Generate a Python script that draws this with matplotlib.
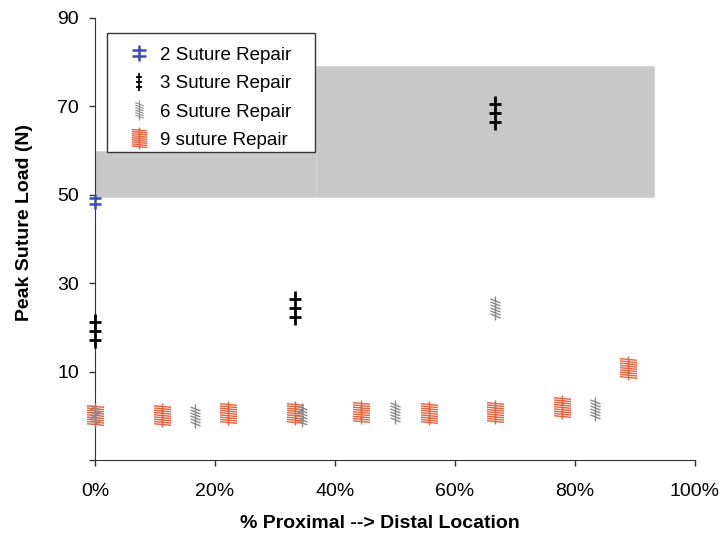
import numpy as np
import matplotlib
matplotlib.use('Agg')
import matplotlib.pyplot as plt
from matplotlib.path import Path
from matplotlib.markers import MarkerStyle
from matplotlib.patches import Rectangle
from matplotlib.lines import Line2D

plt.rcParams['font.family'] = ['Liberation Sans', 'DejaVu Sans']

# data (location in %, peak load in N)
x2 = [0]
y2 = [48.5]
x3 = [0, 33.3, 66.7]
y3 = [19.3, 24.4, 68.5]
x6 = [0, 16.7, 34.5, 50, 66.7, 83.3]
y6 = [0.2, 0.0, 0.2, 0.9, 24.4, 1.5]
x9 = [0, 11.1, 22.2, 33.3, 44.4, 55.6, 66.7, 77.8, 88.9]
y9 = [0.2, 0.2, 0.6, 0.6, 1.0, 0.6, 0.9, 2.0, 10.8]
names = ['2 Suture Repair', '3 Suture Repair', '6 Suture Repair', '9 suture Repair']

# shaded ranges: (x start, x end, y low, y high)
bands = [(0, 36.8, 49.5, 59.8), (36.8, 93.2, 49.5, 79.2)]


def suture_marker(n, half_h, half_w, bar_span, slant):
    # vertical strand with n cross bars
    verts = [(0, -half_h), (0, half_h)]
    codes = [Path.MOVETO, Path.LINETO]
    for yy in np.linspace(-bar_span, bar_span, n):
        verts += [(-half_w, yy + slant), (half_w, yy - slant)]
        codes += [Path.MOVETO, Path.LINETO]
    return MarkerStyle(Path(verts, codes))


m2 = suture_marker(2, 7.5, 6, 2.6, 0)
m3 = suture_marker(3, 16.5, 5.5, 8.5, 0)
m6 = suture_marker(6, 12, 5, 7.5, 2.0)
m9 = suture_marker(9, 12, 8.5, 9, 0.8)

c2, c3, c6, c9 = '#3a4db5', 'black', '#8a8a8a', '#e8603a'

fig = plt.figure(figsize=(7.26, 5.42), dpi=100)
ax = fig.add_axes([0.131, 0.151, 0.826, 0.816])

for x0, x1, ylo, yhi in bands:
    ax.add_patch(Rectangle((x0, ylo), x1 - x0, yhi - ylo, facecolor='#c8c8c8',
                           edgecolor='#d6d6d6', lw=0.8, zorder=0))

ax.plot(x9, y9, ls='none', marker=m9, ms=17.3, mfc='none', mec=c9, mew=1.0,
        zorder=3, clip_on=False)
ax.plot(x6, y6, ls='none', marker=m6, ms=17.3, mfc='none', mec=c6, mew=1.0,
        zorder=3, clip_on=False)
ax.plot(x3, y3, ls='none', marker=m3, ms=23.8, mfc='none', mec=c3, mew=2.0,
        zorder=4, clip_on=False)
ax.plot(x2, y2, ls='none', marker=m2, ms=10.8, mfc='none', mec=c2, mew=1.8,
        zorder=4, clip_on=False)

ax.set_xlim(0, 100)
ax.set_ylim(-10, 90)
ax.set_xticks([0, 20, 40, 60, 80, 100])
ax.set_xticklabels(['0%', '20%', '40%', '60%', '80%', '100%'])
ax.set_yticks([-10, 10, 30, 50, 70, 90])
ax.set_yticklabels(['', '10', '30', '50', '70', '90'])
ax.tick_params(axis='both', direction='out', length=4.5, width=1, colors='#333333',
               labelsize=14, labelcolor='black')
ax.tick_params(axis='y', pad=7)
ax.tick_params(axis='x', pad=12)

for s in ['top', 'right']:
    ax.spines[s].set_visible(False)
ax.spines['left'].set_color('#333333')
ax.spines['bottom'].set_color('#333333')

ax.set_ylabel('Peak Suture Load (N)', fontsize=14, fontweight='bold')
ax.set_xlabel('% Proximal --> Distal Location', fontsize=14, fontweight='bold')
ax.yaxis.set_label_coords(-0.103, 0.538)
ax.xaxis.set_label_coords(0.475, -0.124)

# legend box drawn by hand so its size matches
ax.add_patch(Rectangle((0.02, 0.697), 0.347, 0.269, transform=ax.transAxes,
                       facecolor='white', edgecolor='#333333', lw=1.0,
                       zorder=5, clip_on=False))

handles = [
    Line2D([], [], ls='none', marker=m2, ms=12.2, mfc='none', mec=c2, mew=1.8),
    Line2D([], [], ls='none', marker=m3, ms=13.0, mfc='none', mec=c3, mew=1.3),
    Line2D([], [], ls='none', marker=m6, ms=14.4, mfc='none', mec=c6, mew=0.8),
    Line2D([], [], ls='none', marker=m9, ms=15.8, mfc='none', mec=c9, mew=1.0),
]
leg = ax.legend(handles, names, loc='upper left', bbox_to_anchor=(0.048, 0.935),
                fontsize=13.5, frameon=False, handlelength=1.6, handletextpad=0.32,
                borderpad=0, borderaxespad=0, labelspacing=0.6)
leg.set_zorder(6)

fig.savefig('out.png', dpi=100)
